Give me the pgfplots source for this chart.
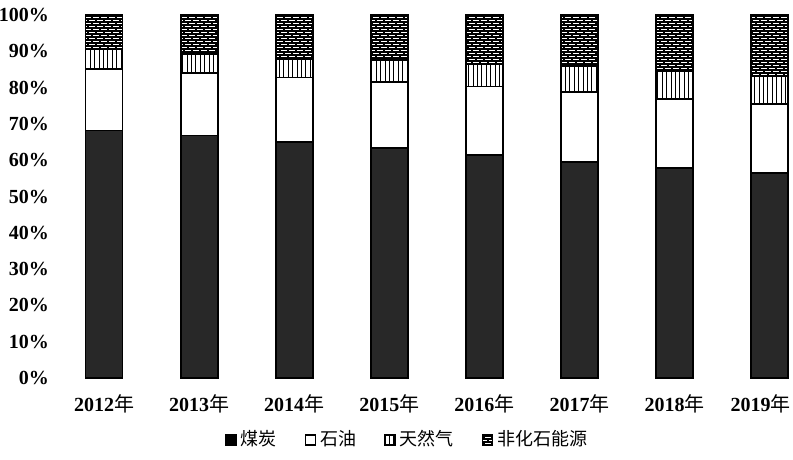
\documentclass[border=0pt]{standalone}
\usepackage{fontspec}
\setmainfont{Liberation Serif}
\newfontfamily\cjk{Noto Sans CJK SC}
\usepackage{pgfplots}
\usepackage{pgfplotstable}
\pgfplotsset{compat=1.18}
\usetikzlibrary{patterns}

% energy consumption structure, share in %
\pgfplotstableread{
x coal oil gas nonfossil
0 68.2 17.0 5.4 9.4
1 66.8 17.2 5.3 10.7
2 65.0 17.8 5.1 12.1
3 63.3 18.3 6.0 12.4
4 61.5 18.8 6.2 13.5
5 59.5 19.3 7.2 14.0
6 57.9 19.0 7.7 15.4
7 56.5 19.0 7.8 16.7
}\energy

\definecolor{coal}{RGB}{40,40,40}

% finer patterns than the stock ones
\pgfdeclarepatternformonly{finevlines}{\pgfqpoint{-0.5pt}{-0.5pt}}{\pgfqpoint{2.7pt}{2.7pt}}{\pgfqpoint{2.2pt}{2.2pt}}{
  \pgfsetlinewidth{0.5pt}
  \pgfpathmoveto{\pgfqpoint{1.1pt}{-0.5pt}}\pgfpathlineto{\pgfqpoint{1.1pt}{2.7pt}}
  \pgfusepath{stroke}}
\pgfdeclarepatternformonly{finebricks}{\pgfqpoint{-0.5pt}{-0.5pt}}{\pgfqpoint{4.5pt}{3.5pt}}{\pgfqpoint{4pt}{3pt}}{
  \pgfsetlinewidth{0.55pt}
  \pgfpathmoveto{\pgfqpoint{0pt}{0pt}}\pgfpathlineto{\pgfqpoint{4pt}{0pt}}
  \pgfpathmoveto{\pgfqpoint{0pt}{1.5pt}}\pgfpathlineto{\pgfqpoint{4pt}{1.5pt}}
  \pgfpathmoveto{\pgfqpoint{0pt}{0pt}}\pgfpathlineto{\pgfqpoint{0pt}{1.5pt}}
  \pgfpathmoveto{\pgfqpoint{2pt}{1.5pt}}\pgfpathlineto{\pgfqpoint{2pt}{3pt}}
  \pgfusepath{stroke}}

\newcommand{\yr}[1]{{\bfseries #1}{\cjk 年}}

\begin{document}
\begin{tikzpicture}
\begin{axis}[
    scale only axis,
    width=366.5pt, height=181.5pt,
    ybar stacked,
    bar width=18.5pt,
    xmin=-0.463, xmax=7.245,
    ymin=0, ymax=100,
    axis line style={draw=none},
    major tick length=0pt,
    xtick={0,...,7},
    xticklabels={\yr{2012},\yr{2013},\yr{2014},\yr{2015},\yr{2016},\yr{2017},\yr{2018},\hbox{\yr{2019}\kern9pt}},
    ytick={0,10,...,100},
    yticklabel={\bfseries\pgfmathprintnumber{\tick}\%},
    /pgf/number format/assume math mode=true,
    tick label style={font=\fontsize{10}{12}\selectfont},
    xticklabel style={yshift=-5pt},
    yticklabel style={xshift=-2pt},
    clip=false,
    every axis plot/.append style={draw=black, line width=0.9pt},
    legend style={at={(0.475,-0.17)}, anchor=center, draw=none,
        font=\cjk\fontsize{9}{10}\selectfont, legend columns=4,
        /tikz/every even column/.append style={column sep=12pt}},
]
\addplot[fill=coal, legend image code/.code={\draw[fill=black,line width=0.8pt] (0pt,-2.5pt) rectangle (5pt,2.5pt);}]
    table[x=x, y=coal] {\energy};
\addlegendentry{煤炭}
\addplot[fill=white, legend image code/.code={\draw[fill=white,line width=0.8pt] (0pt,-2.5pt) rectangle (5pt,2.5pt);}]
    table[x=x, y=oil] {\energy};
\addlegendentry{石油}
\addplot[fill=white, postaction={pattern=finevlines}, legend image code/.code={\draw[fill=white,line width=0.8pt] (0pt,-2.5pt) rectangle (5pt,2.5pt);}]
    table[x=x, y=gas] {\energy};
\addlegendentry{天然气}
\addplot[fill=white, postaction={pattern=finebricks}, legend image code/.code={\draw[fill=white,line width=0.8pt] (0pt,-2.5pt) rectangle (5pt,2.5pt);}]
    table[x=x, y=nonfossil] {\energy};
\addlegendentry{非化石能源}
\end{axis}
\pgfresetboundingbox
\useasboundingbox ([shift={(-30pt,-41pt)}]current axis.south west) rectangle ([shift={(0pt,7.5pt)}]current axis.north east);
\end{tikzpicture}
\end{document}
